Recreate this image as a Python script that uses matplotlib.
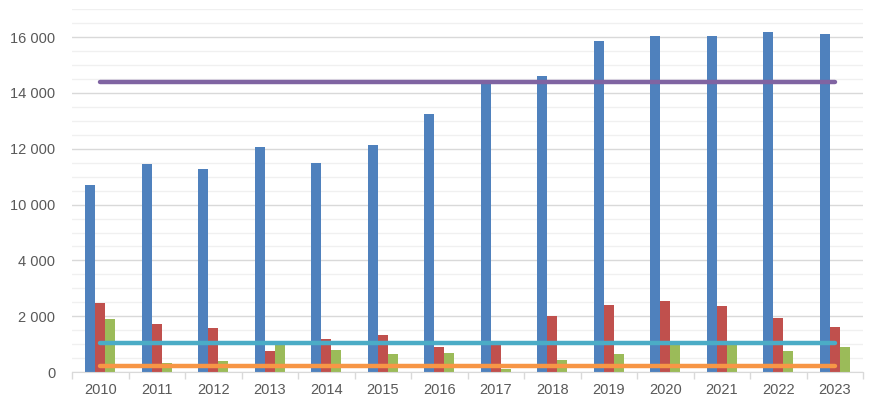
import numpy as np
import matplotlib
matplotlib.use("Agg")
import matplotlib.pyplot as plt
from matplotlib.ticker import FixedLocator, FuncFormatter, NullFormatter

plt.rcParams['font.family'] = ['Liberation Sans', 'DejaVu Sans']

years = [str(y) for y in range(2010, 2024)]
series_blue = [10690, 11440, 11260, 12080, 11475, 12120, 13260, 14350, 14620, 15870, 16045, 16045, 16190, 16120]
series_red = [2464, 1714, 1571, 750, 1178, 1321, 893, 1000, 2000, 2393, 2536, 2357, 1929, 1607]
series_green = [1893, 321, 393, 1020, 786, 643, 679, 120, 429, 643, 1040, 1040, 750, 893]
line_purple = [14410] * 14
line_cyan = [1050] * 14
line_orange = [230] * 14
y_major = [0, 2000, 4000, 10000, 12000, 14000, 16000]

def fwd(v):
    v = np.asarray(v, float)
    return np.where(v <= 4000, v, np.where(v >= 10000, v - 4000, 4000 + (v - 4000) / 3.0))

def inv(t):
    t = np.asarray(t, float)
    return np.where(t <= 4000, t, np.where(t >= 6000, t + 4000, 4000 + (t - 4000) * 3.0))

W, H = 882, 403
fig = plt.figure(figsize=(W / 100, H / 100), dpi=100)
ax = fig.add_axes([72 / W, 1 - 372 / H, (863 - 72) / W, (372 - 9.3) / H])

ax.set_yscale('function', functions=(fwd, inv))
ax.set_ylim(0, 17000)
ax.set_xlim(-0.5, 13.5)

x = np.arange(len(years))
w = 0.177
ax.bar(x - w, series_blue, width=w, color='#4F81BD', zorder=2)
ax.bar(x, series_red, width=w, color='#C0504D', zorder=2)
ax.bar(x + w, series_green, width=w, color='#9BBB59', zorder=2)
for vals, col in [(line_purple, '#8064A2'), (line_cyan, '#4BACC6'), (line_orange, '#F79646')]:
    ax.plot(x, vals, color=col, lw=3.2, solid_capstyle='round', zorder=3)

# grid
minor_t = [t for t in np.arange(0, 13001, 500) if t % 2000 != 0]
ax.yaxis.set_major_locator(FixedLocator(y_major))
ax.yaxis.set_minor_locator(FixedLocator(list(inv(np.array(minor_t)))))
ax.yaxis.set_major_formatter(FuncFormatter(lambda v, p: f"{int(round(v)):,}".replace(",", " ")))
ax.yaxis.set_minor_formatter(NullFormatter())
ax.grid(True, axis='y', which='major', color='#D9D9D9', lw=1, zorder=0)
ax.grid(True, axis='y', which='minor', color='#F0F0F0', lw=1, zorder=0)
ax.tick_params(axis='y', which='both', length=0, pad=12, labelsize=10.5, labelcolor='#595959')

ax.set_xticks(x)
ax.set_xticklabels(years)
ax.set_xticks(np.arange(-0.5, 14, 1), minor=True)
ax.tick_params(axis='x', which='major', length=0, pad=8, labelsize=10.5, labelcolor='#595959')
ax.tick_params(axis='x', which='minor', length=5, color='#D9D9D9', width=1)

for s in ['left', 'right', 'top']:
    ax.spines[s].set_visible(False)
ax.spines['bottom'].set_color('#D9D9D9')
ax.set_axisbelow(True)

fig.savefig('out.png', dpi=100)
